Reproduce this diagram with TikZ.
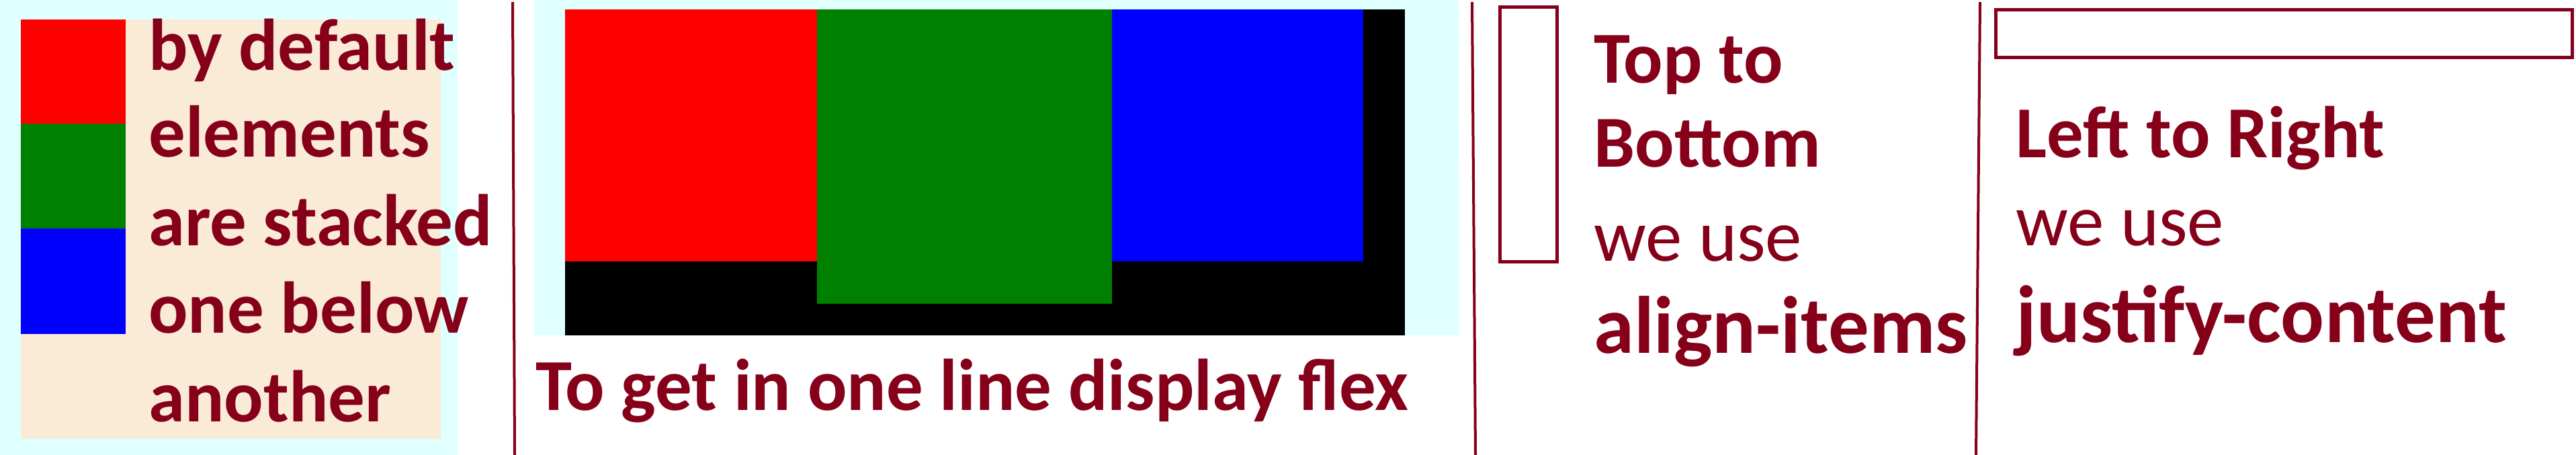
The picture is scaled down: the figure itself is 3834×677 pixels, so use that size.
\documentclass[tikz,border=0pt]{standalone}
\usepackage{fontspec}
\setmainfont{Carlito}
\definecolor{txt}{RGB}{134,0,26}
\definecolor{bgcyan}{RGB}{224,255,255}
\definecolor{beige}{RGB}{250,235,215}
\definecolor{pgreen}{RGB}{0,128,0}
\tikzset{
  lbl/.style={anchor=base west, inner sep=0pt, text=txt, font=\bfseries\fontsize{109}{120}\selectfont},
  lblreg/.style={anchor=base west, inner sep=0pt, text=txt, font=\fontsize{109}{120}\selectfont},
  lblbig/.style={anchor=base west, inner sep=0pt, text=txt, font=\bfseries\fontsize{121}{130}\selectfont},
  sepline/.style={draw=txt, line width=4pt},
  outline/.style={draw=txt, line width=5pt}
}
\begin{document}
\begin{tikzpicture}[x=1pt,y=-1pt]
\useasboundingbox (0,0) rectangle (3834,677);
\fill[white] (0,0) rectangle (3834,677);
% panel 1
\fill[bgcyan] (0,0) rectangle (681,677);
\fill[beige] (31,29) rectangle (656,653);
\fill[red] (31,29) rectangle (187,184);
\fill[pgreen] (31,184) rectangle (187,340);
\fill[blue] (31,340) rectangle (187,497);
\node[lbl] (t1) at (221,104) {by default};
\node[lbl] (t2) at (221,233) {elements};
\node[lbl] (t3) at (221,365) {are stacked};
\node[lbl] (t4) at (221,495) {one below};
\node[lbl] (t5) at (221,627) {another};
% separator 1
\draw[sepline] (763,3) -- (766,677);
% panel 2
\fill[bgcyan] (795,0) rectangle (2172,499);
\fill[black] (841,14) rectangle (2091,499);
\fill[red] (841,14) rectangle (1216,389);
\fill[pgreen] (1216,14) rectangle (1655,452);
\fill[blue] (1655,14) rectangle (2029,389);
\node[lbl] (flex) at (797,610) {To get in one line display flex};
% separator 2
\draw[sepline] (2191,3) -- (2196,677);
% panel 3
\draw[outline] (2232.5,10.5) rectangle (2317.5,389.5);
\node[lbl] (tb1) at (2372,123) {Top to};
\node[lbl] (tb2) at (2372,248) {Bottom};
\node[lblreg] (tb3) at (2372,388) {we use};
\node[lblbig] (tb4) at (2372,525) {align-items};
% separator 3
\draw[sepline] (2947,3) -- (2941,677);
% panel 4
\draw[outline] (2970.5,14.5) rectangle (3828.5,85.5);
\node[lbl] (lr1) at (3000,234) {Left to Right};
\node[lblreg] (lr2) at (3000,365) {we use};
\node[lblbig] (lr3) at (3000,509) {justify-content};
\end{tikzpicture}
\end{document}
